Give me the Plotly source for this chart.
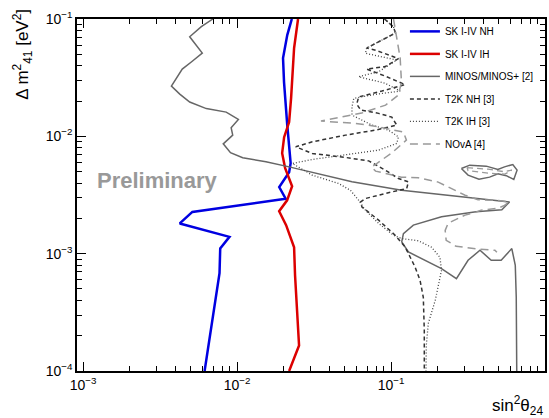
import plotly.graph_objects as go

# ---------------- data ----------------
sk_nh_x = [0.00616, 0.00770, 0.00778, 0.00893, 0.00425, 0.00513, 0.0207, 0.0188, 0.0218,
           0.0223, 0.0212, 0.0202, 0.0199, 0.0212, 0.0227]
sk_nh_y = [1e-4, 6.81e-4, 1.11e-3, 1.39e-3, 1.81e-3, 2.27e-3, 2.94e-3, 3.69e-3, 4.95e-3,
           5.91e-3, 0.01246, 0.0290, 0.0465, 0.0730, 0.1]

sk_ih_x = [0.02491, 0.02348, 0.02245, 0.02180, 0.02023, 0.01964, 0.02054, 0.02279, 0.02115,
           0.01878, 0.02084, 0.02348, 0.02382, 0.02491, 0.02529, 0.02180]
sk_ih_y = [0.1, 0.05655, 0.02118, 0.01322, 9.84e-3, 7.19e-3, 5.35e-3, 3.76e-3, 2.85e-3,
           2.30e-3, 1.75e-3, 1.134e-3, 6.54e-4, 2.70e-4, 1.65e-4, 1e-4]

minos_x = [6.97e-3, 5.865e-3, 4.93e-3, 5.95e-3, 5.05e-3, 4.41e-3, 3.75e-3, 4.25e-3, 4.93e-3,
           6.32e-3, 8.51e-3, 0.01021, 9.16e-3, 9.38e-3, 8.14e-3, 9.07e-3, 0.01089, 0.01541,
           0.02180, 0.0340, 0.0558, 0.1174, 0.2350, 0.4056, 0.5884, 0.5246, 0.3565, 0.2128,
           0.1397, 0.1204, 0.1174, 0.1297, 0.2128, 0.2660, 0.3165, 0.3783, 0.4475, 0.5192,
           0.6088, 0.6412, 0.6506, 0.6555]
minos_y = [0.1, 0.0860, 0.0706, 0.0513, 0.0430, 0.0374, 0.0268, 0.0229, 0.0196,
           0.01723, 0.01609, 0.01393, 0.01186, 0.01024, 8.63e-3, 7.26e-3, 6.58e-3, 6.06e-3,
           5.49e-3, 4.82e-3, 4.11e-3, 3.47e-3, 3.15e-3, 2.89e-3, 2.76e-3, 2.37e-3, 2.28e-3, 2.06e-3,
           1.75e-3, 1.48e-3, 1.26e-3, 1.034e-3, 7.46e-4, 6.13e-4, 8.79e-4, 1.069e-3, 8.79e-4, 8.79e-4,
           1.105e-3, 7.96e-4, 4.25e-4, 1e-4]

minos_island_x = [0.2865, 0.3246, 0.4155, 0.4943, 0.5460, 0.6179, 0.6585, 0.6271, 0.5609,
                  0.4943, 0.4370, 0.3727, 0.3165, 0.2865]
minos_island_y = [5.32e-3, 5.68e-3, 5.57e-3, 5.22e-3, 5.49e-3, 5.75e-3, 5.15e-3, 4.29e-3, 4.62e-3,
                  4.80e-3, 4.49e-3, 4.31e-3, 4.67e-3, 5.32e-3]

t2k_nh_x = [0.0908, 0.1038, 0.1069, 0.0869, 0.0695, 0.0806, 0.1118, 0.0918, 0.0695, 0.0918,
            0.1235, 0.0872, 0.0617, 0.0599, 0.0636, 0.0831, 0.1012, 0.1090, 0.0791, 0.0506,
            0.0308, 0.02407, 0.0308, 0.0506, 0.0716, 0.0918, 0.1118, 0.1297, 0.1265, 0.0918,
            0.0682, 0.0633, 0.0648, 0.0831, 0.1064, 0.1235, 0.1433, 0.1544, 0.1621, 0.1645, 0.1645]
t2k_nh_y = [0.1, 0.0855, 0.0760, 0.0662, 0.05655, 0.0538, 0.0460, 0.0393, 0.0374, 0.0326,
            0.0276, 0.0243, 0.0217, 0.01883, 0.01673, 0.01569, 0.01458, 0.01246, 0.01129, 0.01024,
            8.98e-3, 8.14e-3, 7.15e-3, 6.61e-3, 6.18e-3, 5.15e-3, 4.37e-3, 4.09e-3, 3.59e-3, 3.26e-3,
            2.95e-3, 2.75e-3, 2.50e-3, 1.93e-3, 1.435e-3, 1.141e-3, 7.70e-4, 5.93e-4, 4.25e-4, 2.22e-4, 1e-4]

t2k_ih_x = [0.0908, 0.1038, 0.1069, 0.0869, 0.0695, 0.0682, 0.1090, 0.0831, 0.0617, 0.0918,
            0.1147, 0.0791, 0.0573, 0.0558, 0.0558, 0.0752, 0.0963, 0.1118, 0.1090, 0.0831,
            0.0506, 0.0308, 0.02289, 0.0308, 0.0458, 0.0545, 0.0617, 0.0682, 0.0831, 0.1038,
            0.1174, 0.1505, 0.1834, 0.2078, 0.2128, 0.1938, 0.1747, 0.1695, 0.1687]
t2k_ih_y = [0.1, 0.0855, 0.0760, 0.0662, 0.05655, 0.0510, 0.0447, 0.0355, 0.0322, 0.0283,
            0.0243, 0.0228, 0.02106, 0.01775, 0.01517, 0.01246, 0.01129, 9.90e-3, 8.70e-3, 7.63e-3,
            6.91e-3, 6.35e-3, 5.87e-3, 4.67e-3, 3.96e-3, 3.47e-3, 2.85e-3, 2.35e-3, 1.81e-3, 1.435e-3,
            1.345e-3, 1.288e-3, 1.134e-3, 9.32e-4, 7.22e-4, 4.00e-4, 2.55e-4, 1.65e-4, 1e-4]

nova_x = [0.1038, 0.1085, 0.1147, 0.1169, 0.1118, 0.0922, 0.0645, 0.0351, 0.0590, 0.0831,
          0.1204, 0.1259, 0.1007, 0.0748, 0.0794, 0.1169, 0.1505, 0.2026, 0.2458, 0.3027,
          0.3672, 0.5169, 0.5821, 0.5404, 0.4943, 0.3840, 0.3565, 0.3027, 0.2350, 0.2248,
          0.2282, 0.2648, 0.3565, 0.4728, 0.4871]
nova_y = [0.1, 0.0730, 0.0465, 0.0290, 0.0225, 0.01845, 0.01578, 0.01349, 0.01289, 0.01205,
          0.01086, 9.28e-3, 7.19e-3, 5.46e-3, 5.05e-3, 4.49e-3, 4.44e-3, 4.07e-3, 3.61e-3, 3.15e-3,
          2.88e-3, 2.83e-3, 2.75e-3, 2.56e-3, 2.44e-3, 2.35e-3, 2.26e-3, 2.13e-3, 1.82e-3, 1.58e-3,
          1.30e-3, 1.156e-3, 1.10e-3, 1.069e-3, 1.028e-3]

nova_island_x = [0.3119, 0.4262, 0.5404, 0.6088, 0.5486, 0.4262, 0.3165, 0.3119]
nova_island_y = [5.41e-3, 5.25e-3, 5.00e-3, 5.15e-3, 4.76e-3, 4.85e-3, 5.10e-3, 5.41e-3]

x_tick_vals = [1e-3, 1e-2, 1e-1, 1]
x_tick_text = ["10<sup>−3</sup>", "10<sup>−2</sup>", "10<sup>−1</sup>", "1"]
y_tick_vals = [1e-4, 1e-3, 1e-2, 1e-1]
y_tick_text = ["10<sup>−4</sup>", "10<sup>−3</sup>", "10<sup>−2</sup>", "10<sup>−1</sup>"]

FONT = "Liberation Sans, Arial, Helvetica, sans-serif"

fig = go.Figure()

def add(x, y, name, color, width, dash="solid", group=None, legend=True):
    fig.add_trace(go.Scatter(
        x=x, y=y, mode="lines", name=name,
        line=dict(color=color, width=width, dash=dash),
        legendgroup=group or name, showlegend=legend, hoverinfo="skip"))

add(sk_nh_x, sk_nh_y, "SK I-IV NH", "rgb(0,0,225)", 2.5, group="sknh")
add(sk_ih_x, sk_ih_y, "SK I-IV IH", "rgb(220,0,0)", 2.5, group="skih")
add(minos_x, minos_y, "MINOS/MINOS+ [2]", "#666666", 1.5, group="minos")
add(minos_island_x, minos_island_y, "MINOS/MINOS+ [2]", "#666666", 1.5, group="minos", legend=False)
add(t2k_nh_x, t2k_nh_y, "T2K NH [3]", "#333333", 1.5, dash="4px,3px", group="t2knh")
add(t2k_ih_x, t2k_ih_y, "T2K IH [3]", "#444444", 1.3, dash="1px,2px", group="t2kih")
add(nova_x, nova_y, "NOvA [4]", "#999999", 1.5, dash="8px,5px", group="nova")
add(nova_island_x, nova_island_y, "NOvA [4]", "#999999", 1.3, dash="6px,4px", group="nova", legend=False)

axis_common = dict(
    type="log", showgrid=False, zeroline=False,
    showline=True, linecolor="black", linewidth=1.5, mirror="allticks",
    ticks="inside", ticklen=9, tickwidth=1, tickcolor="black",
    tickfont=dict(family=FONT, size=14, color="black"),
)

minor_vals = [m * 10.0 ** e for e in range(-4, 0) for m in range(2, 10)]

fig.update_xaxes(range=[-3.039, 0.0], tickvals=x_tick_vals, ticktext=x_tick_text,
                 minor=dict(tickvals=minor_vals, ticks="inside", ticklen=5, tickcolor="black", showgrid=False),
                 **axis_common)
fig.update_yaxes(range=[-4, -1], tickvals=y_tick_vals, ticktext=y_tick_text,
                 minor=dict(tickvals=minor_vals, ticks="inside", ticklen=5, tickcolor="black", showgrid=False),
                 **axis_common)

fig.update_layout(
    width=549, height=418,
    margin=dict(l=77, r=2, t=19, b=47),
    paper_bgcolor="white", plot_bgcolor="white",
    font=dict(family=FONT, color="black"),
    legend=dict(
        x=0.7007, y=1.006, xanchor="left", yanchor="top",
        traceorder="grouped", tracegroupgap=3.5,
        font=dict(family=FONT, size=10, color="black"),
        bgcolor="rgba(0,0,0,0)", borderwidth=0,
    ),
    showlegend=True,
    annotations=[
        dict(text="Preliminary", xref="paper", yref="paper", x=0.039, y=0.542,
             xanchor="left", yanchor="middle", showarrow=False,
             font=dict(family=FONT, size=22, color="rgb(153,153,153)", weight="bold")),
        dict(text="Δ m<sup>2</sup><sub>41</sub> [eV<sup>2</sup>]", xref="paper", yref="paper",
             x=-0.1164, y=0.90, xanchor="center", yanchor="middle", textangle=-90, showarrow=False,
             font=dict(family=FONT, size=17, color="black")),
        dict(text="sin<sup>2</sup>θ<sub>24</sub>", xref="paper", yref="paper",
             x=1.0, y=-0.098, xanchor="right", yanchor="middle", showarrow=False,
             font=dict(family=FONT, size=17, color="black")),
    ],
)

fig.write_html("out.html", config={"displayModeBar": False},
               post_script="document.body.style.margin='0px'; document.body.style.overflow='hidden';")
